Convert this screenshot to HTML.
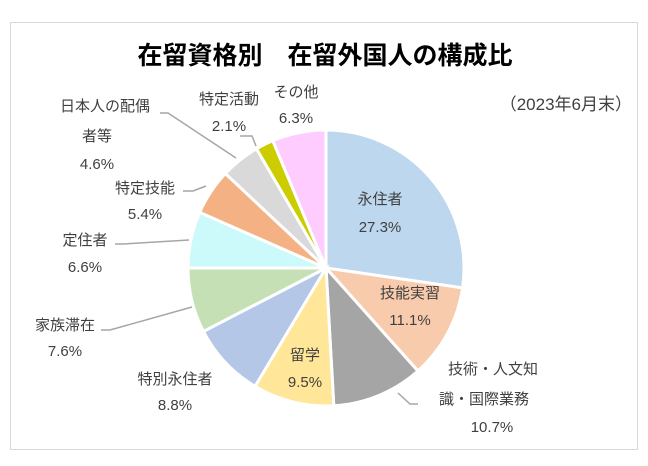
<!DOCTYPE html>
<html><head><meta charset="utf-8"><style>
body{margin:0;background:#fff;}
svg text{font-family:"Liberation Sans","Noto Sans CJK JP",sans-serif;fill:#404040;font-size:15px;}
</style></head><body>
<svg width="648" height="461" viewBox="0 0 648 461">
<rect x="10.5" y="22.5" width="627" height="427" fill="#fff" stroke="#d9d9d9"/>
<text x="325" y="64" text-anchor="middle" style="font-size:25px;font-weight:bold;fill:#000">在留資格別　在留外国人の構成比</text>
<text x="632" y="110" text-anchor="end" style="font-size:17px">（2023年6月末）</text>
<g id="slices"></g>
<g id="lines" stroke="#a6a6a6" stroke-width="1.5" fill="none">
<polyline points="160,113 168,113 236,158"/>
<polyline points="183,191 193,191 206,186"/>
<polyline points="115,244 123,244 189,240"/>
<polyline points="101,330 110,330 192,307"/>
<polyline points="240,136 252,136 256,146"/>
<polyline points="398,393 410,404 418,404"/>
</g>
<g id="labels"></g>
</svg>
<script>
const categories=["永住者","技能実習","技術・人文知識・国際業務","留学","特別永住者","家族滞在","定住者","特定技能","日本人の配偶者等","特定活動","その他"];
const values=[27.3,11.1,10.7,9.5,8.8,7.6,6.6,5.4,4.6,2.1,6.3];
const valueLabels=["27.3%","11.1%","10.7%","9.5%","8.8%","7.6%","6.6%","5.4%","4.6%","2.1%","6.3%"];
const colors=["#bdd7ee","#f8cbad","#a5a5a5","#ffe699","#b4c7e7","#c5e0b4","#ccf9f9","#f4b183","#d9d9d9","#cccc00","#ffccff"];
const slugs=["permanent","intern","engineer","student","special-permanent","family","long-term","specified-skill","spouse","designated","other"];
const labelPos=[[[380,204],[380,232]],[[410,298],[410,325]],[[493,374,"技術・人文知"],[484,404,"識・国際業務"],[492,432]],[[305,360],[305,387]],[[175,384],[175,410]],[[65,330],[65,356]],[[85,245],[85,272]],[[145,193],[145,219]],[[105,111,"日本人の配偶"],[97,141,"者等"],[97,169]],[[229,104],[229,131]],[[296,97],[296,123]]];
const NS="http://www.w3.org/2000/svg";
const cx=326,cy=268,r=138;
const total=values.reduce((a,b)=>a+b,0);
function pt(a,rr){return [cx+rr*Math.sin(a),cy-rr*Math.cos(a)];}
let acc=0;
const gS=document.getElementById('slices'),gL=document.getElementById('labels');
values.forEach((v,i)=>{
 const a0=acc/total*2*Math.PI; acc+=v; const a1=acc/total*2*Math.PI;
 const [x0,y0]=pt(a0,r),[x1,y1]=pt(a1,r);
 const p=document.createElementNS(NS,'path');
 p.setAttribute('d',`M${cx},${cy}L${x0},${y0}A${r},${r} 0 ${a1-a0>Math.PI?1:0} 1 ${x1},${y1}Z`);
 p.setAttribute('fill',colors[i]);p.setAttribute('stroke','#fff');p.setAttribute('stroke-width','3');
 
 
 gS.appendChild(p);
 const lp=labelPos[i];
 lp.forEach((q,j)=>{
  const t=document.createElementNS(NS,'text');
  t.setAttribute('x',q[0]);t.setAttribute('y',q[1]);t.setAttribute('text-anchor','middle');
  const isVal=j===lp.length-1;
  t.textContent=isVal?valueLabels[i]:(q[2]||categories[i]);
  
  
  gL.appendChild(t);
 });
});
</script>
</body></html>
